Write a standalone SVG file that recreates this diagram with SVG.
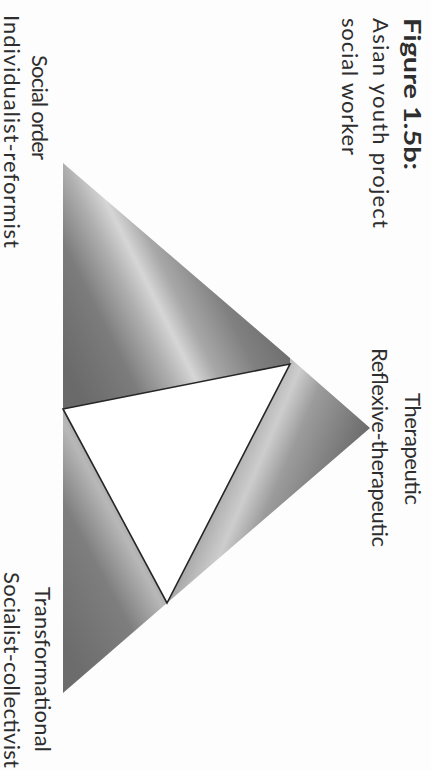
<svg xmlns="http://www.w3.org/2000/svg" width="431" height="770" viewBox="0 0 431 770">
  <style>
    .lbl { font-family: Lato, "Open Sans", "Liberation Sans", sans-serif; font-size: 22px; fill: #2e2e2e; }
    .bold { font-weight: bold; font-size: 23px; }
    .mid { text-anchor: middle; }
    .edge { fill: none; stroke: #262626; stroke-width: 1.6; stroke-linejoin: miter; }
  </style>
  <defs>
    <linearGradient id="gTop" gradientUnits="userSpaceOnUse" x1="55" y1="346" x2="245" y2="251">
      <stop offset="0" stop-color="#6a6a6a"/>
      <stop offset="0.25" stop-color="#7c7c7c"/>
      <stop offset="0.42" stop-color="#b0b0b0"/>
      <stop offset="0.52" stop-color="#d6d6d6"/>
      <stop offset="0.62" stop-color="#a8a8a8"/>
      <stop offset="0.8" stop-color="#808080"/>
      <stop offset="1" stop-color="#6c6c6c"/>
    </linearGradient>
    <linearGradient id="gRight" gradientUnits="userSpaceOnUse" x1="170" y1="404" x2="346" y2="480">
      <stop offset="0" stop-color="#6c6c6c"/>
      <stop offset="0.28" stop-color="#828282"/>
      <stop offset="0.45" stop-color="#b4b4b4"/>
      <stop offset="0.55" stop-color="#cdcdcd"/>
      <stop offset="0.68" stop-color="#9c9c9c"/>
      <stop offset="1" stop-color="#6c6c6c"/>
    </linearGradient>
    <linearGradient id="gBottom" gradientUnits="userSpaceOnUse" x1="45" y1="612" x2="215" y2="520">
      <stop offset="0" stop-color="#6c6c6c"/>
      <stop offset="0.35" stop-color="#7e7e7e"/>
      <stop offset="0.55" stop-color="#b8b8b8"/>
      <stop offset="0.7" stop-color="#8c8c8c"/>
      <stop offset="1" stop-color="#6c6c6c"/>
    </linearGradient>
  </defs>
  <rect x="0" y="0" width="431" height="770" fill="#fdfdfd"/>

  <g id="outer-triangle">
    <polygon id="region-top" points="63,163 290,358 290,364 63,409" fill="url(#gTop)"/>
    <polygon id="region-right" points="290,358 370,428 167,603 290,364" fill="url(#gRight)"/>
    <polygon id="region-bottom" points="63,409 167,603 63,693" fill="url(#gBottom)"/>
  </g>

  <g id="inner-triangle">
    <polygon points="63,409 290,364 167,603" fill="#ffffff"/>
  </g>

  <g id="connectors">
    <polygon class="edge" points="63,409 290,364 167,603"/>
  </g>

  <g id="caption">
    <text class="lbl bold" transform="translate(404,18) rotate(90)" textLength="152" lengthAdjust="spacingAndGlyphs">Figure 1.5b:</text>
    <text class="lbl" transform="translate(373,18) rotate(90)" textLength="210">Asian youth project</text>
    <text class="lbl" transform="translate(342,18) rotate(90)" textLength="137">social worker</text>
  </g>

  <g id="node-social-order">
    <text class="lbl mid" transform="translate(32,107.5) rotate(90)" textLength="105">Social order</text>
    <text class="lbl mid" transform="translate(4,131.5) rotate(90)" textLength="233">Individualist-reformist</text>
  </g>

  <g id="node-therapeutic">
    <text class="lbl mid" transform="translate(405,449) rotate(90)" textLength="112">Therapeutic</text>
    <text class="lbl mid" transform="translate(372,447.5) rotate(90)" textLength="199">Reflexive-therapeutic</text>
  </g>

  <g id="node-transformational">
    <text class="lbl mid" transform="translate(35,669.5) rotate(90)" textLength="165">Transformational</text>
    <text class="lbl mid" transform="translate(4,670) rotate(90)" textLength="196">Socialist-collectivist</text>
  </g>
</svg>
